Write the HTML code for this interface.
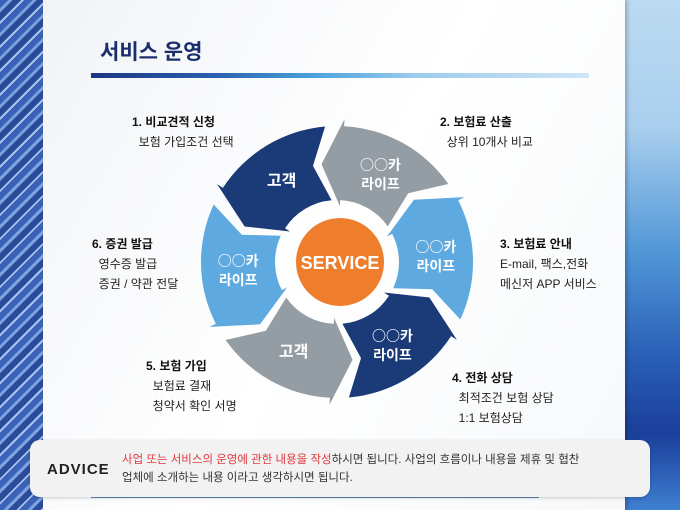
<!DOCTYPE html>
<html><head><meta charset="utf-8"><style>
body{margin:0;width:680px;height:510px;overflow:hidden;font-family:"Liberation Sans","Noto Sans CJK KR",sans-serif;position:relative;background:#fff}
.l{position:absolute;width:43px;top:0;bottom:0;left:0;background:repeating-linear-gradient(135deg,#3a62b8 0 6px,#7ea2de 6px 9px,#2a4a9a 9px 15px,#a8c4ec 15px 17px)}
.r{position:absolute;left:625px;right:0;top:0;bottom:0;background:linear-gradient(180deg,#bcdaf1 0,#a9cfee 25%,#4f95d6 50%,#2a5fb6 70%,#1b3f9a 85%,#3e7fd0 100%)}
.panel{position:absolute;left:43px;width:582px;top:0;bottom:0;background:linear-gradient(120deg,#f1f3f6,#fff 50%,#f6f8fa);box-shadow:2px 0 4px rgba(0,0,0,.25)}
.t{position:absolute;font-size:12px;color:#222;line-height:20px}
.t b{font-size:12px;color:#111}
</style></head><body>
<div class="l"></div><div class="r"></div><div class="panel"></div>
<div style="position:absolute;left:100px;top:36px;font-size:21px;font-weight:bold;color:#1b2e6b">서비스 운영</div>
<div style="position:absolute;left:91px;top:73px;width:498px;height:5px;background:linear-gradient(90deg,#1b3683,#2a5fb0 25%,#4aa3dc 45%,#9ccbec 65%,#cfe5f5)"></div>
<svg id="s" width="680" height="510" style="position:absolute;left:0;top:0"></svg>
<div class="t" style="left:132px;top:112px"><b>1. 비교견적 신청</b><br>&nbsp;&nbsp;보험 가입조건 선택</div>
<div class="t" style="left:440px;top:112px"><b>2. 보험료 산출</b><br>&nbsp;&nbsp;상위 10개사 비교</div>
<div class="t" style="left:500px;top:234px"><b>3. 보험료 안내</b><br>E-mail, 팩스,전화<br>메신저 APP 서비스</div>
<div class="t" style="left:92px;top:234px"><b>6. 증권 발급</b><br>&nbsp;&nbsp;영수증 발급<br>&nbsp;&nbsp;증권 / 약관 전달</div>
<div class="t" style="left:146px;top:356px"><b>5. 보험 가입</b><br>&nbsp;&nbsp;보험료 결재<br>&nbsp;&nbsp;청약서 확인 서명</div>
<div class="t" style="left:452px;top:368px"><b>4. 전화 상담</b><br>&nbsp;&nbsp;최적조건 보험 상담<br>&nbsp;&nbsp;1:1 보험상담</div>
<div style="position:absolute;left:91px;top:496px;width:448px;height:2px;background:#5d86b8"></div>
<div style="position:absolute;left:30px;top:440px;width:620px;height:57px;border-radius:10px;background:#f2f2f2;box-shadow:0 1px 3px rgba(0,0,0,.2)"></div>
<div style="position:absolute;left:47px;top:461px;font-size:15px;font-weight:bold;color:#222;letter-spacing:1px">ADVICE</div>
<div style="position:absolute;left:122px;top:451px;font-size:11.5px;line-height:18px;color:#333"><span style="color:#e0393e">사업 또는 서비스의 운영에 관한 내용을 작성</span>하시면 됩니다. 사업의 흐름이나 내용을 제휴 및 협찬<br>업체에 소개하는 내용 이라고 생각하시면 됩니다.</div>
<script>
var cx=337,cy=262,Ro=136,Ri=62,rm=99;
function P(a,r){a=a*Math.PI/180;return (cx+r*Math.sin(a)).toFixed(1)+","+(cy-r*Math.cos(a)).toFixed(1);}
var cols=["#1b3a78","#959da4","#5eaae0","#1b3a78","#959da4","#5eaae0"];
var labs=[["고객"],["○○카","라이프"],["○○카","라이프"],["○○카","라이프"],["고객"],["○○카","라이프"]];
var h="";
var F='font-family="Noto Sans CJK KR,sans-serif"';
for(var i=0;i<6;i++){var c=-32+60*i,a1=c-25,a2=c+27;
h+='<path fill="'+cols[i]+'" d="M'+P(a2,Ro)+' A'+Ro+','+Ro+' 0 0 0 '+P(a1,Ro)+' L'+P(a1,Ro+7)+' L'+P(a1-12,rm)+' L'+P(a1,Ri-6)+' L'+P(a1,Ri)+' A'+Ri+','+Ri+' 0 0 1 '+P(a2,Ri)+' L'+P(a2-9,rm)+' Z"/>';
var q=P(c-2,rm).split(",");var x=+q[0],y=+q[1];var L=labs[i];
if(L.length==1)h+='<text x="'+x+'" y="'+(y+6)+'" fill="#fff" font-size="16" font-weight="bold" text-anchor="middle" '+F+'>'+L[0]+'</text>';
else h+='<text x="'+x+'" y="'+(y-3)+'" fill="#fff" font-size="14" font-weight="bold" text-anchor="middle" '+F+'>'+L[0]+'</text><text x="'+x+'" y="'+(y+16)+'" fill="#fff" font-size="14" font-weight="bold" text-anchor="middle" '+F+'>'+L[1]+'</text>';}
h+='<circle cx="'+(cx+3)+'" cy="'+cy+'" r="44" fill="#ee7d2c"/><text x="'+(cx+3)+'" y="'+(cy+7)+'" fill="#fff" font-size="18" font-weight="bold" text-anchor="middle" font-family="Liberation Sans,sans-serif">SERVICE</text>';
document.getElementById("s").innerHTML=h;
</script>
</body></html>
